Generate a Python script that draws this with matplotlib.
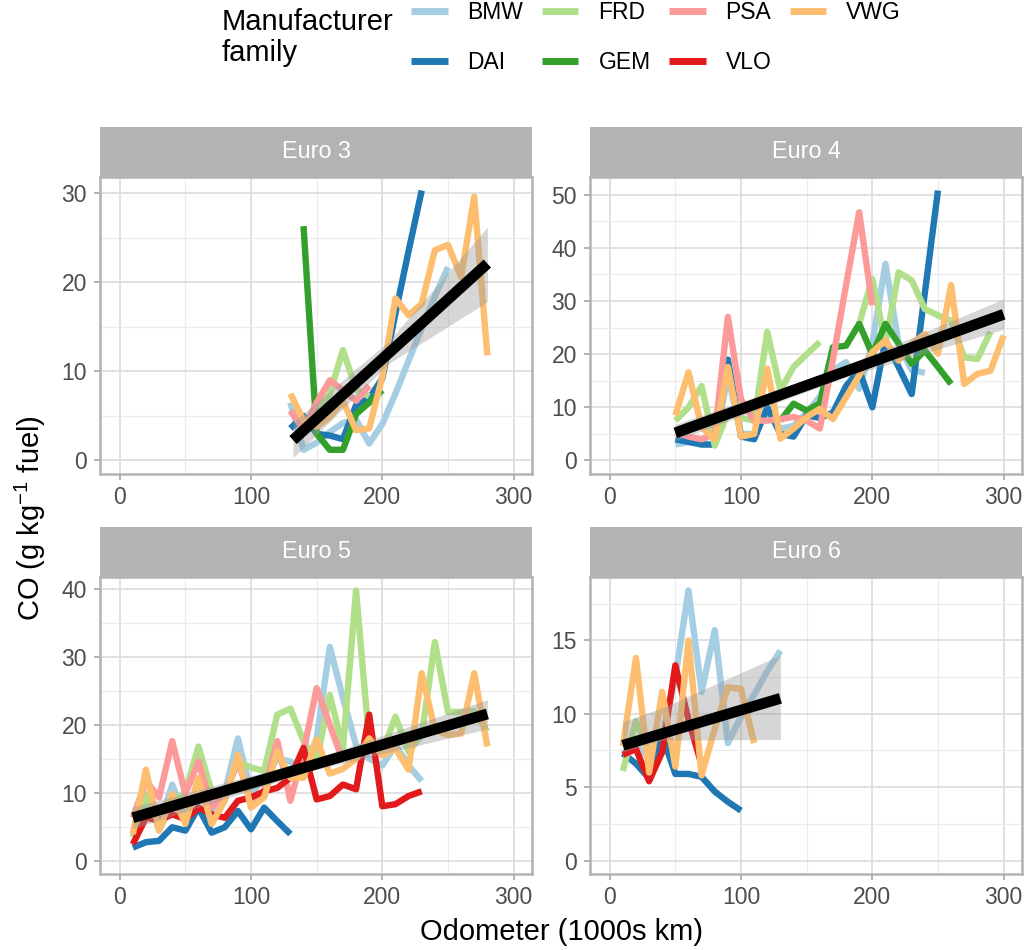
import numpy as np
import matplotlib

# Headless backend
matplotlib.use("Agg")

import matplotlib.pyplot as plt
from matplotlib.lines import Line2D
from matplotlib.ticker import MultipleLocator

plt.rcParams["font.family"] = ["Liberation Sans", "DejaVu Sans"]
plt.rcParams["mathtext.fontset"] = "custom"
plt.rcParams["mathtext.rm"] = "Liberation Sans"
plt.rcParams["mathtext.it"] = "Liberation Sans:italic"

nan = float("nan")

# ==========
# CATEGORIES
# ==========
MAKERS = ["BMW", "DAI", "FRD", "GEM", "PSA", "VLO", "VWG"]
COLOURS = {
    "BMW": "#A6CEE3", "DAI": "#1F78B4", "FRD": "#B2DF8A", "GEM": "#33A02C",
    "PSA": "#FB9A99", "VLO": "#E31A1C", "VWG": "#FDBF6F",
}

# ==================================
# EURO 3 (odometer bins, 1000s km)
# ==================================
E3_ODO = [130, 140, 150, 160, 170, 180, 190, 200, 210, 220, 230, 240, 250, 260, 270, 280]
E3_BMW = [6.5, 1.2, 2.0, 3.2, 4.2, 4.6, 1.9, 4.1, 7.5, 11.2, 14.8, 18.4, 21.7, nan, nan, nan]
E3_DAI = [3.6, 5.0, 3.0, 2.8, 2.4, 6.2, 7.0, 9.2, 16.5, 23.5, 30.3, nan, nan, nan, nan, nan]
E3_FRD = [nan, nan, 5.5, 7.5, 12.4, 8.0, 7.2, nan, nan, nan, nan, nan, nan, nan, nan, nan]
E3_GEM = [nan, 26.3, 3.0, 1.2, 1.2, 5.2, 6.5, 7.9, nan, nan, nan, nan, nan, nan, nan, nan]
E3_PSA = [5.6, 3.5, 6.5, 9.0, 7.9, 6.7, 8.4, nan, nan, nan, nan, nan, nan, nan, nan, nan]
E3_VWG = [7.5, 4.5, 3.8, 4.9, 6.7, 3.4, 3.6, 9.4, 18.2, 16.3, 17.6, 23.6, 24.2, 20.6, 29.6, 11.8]
E3_FIT_X = [132, 280]
E3_FIT_Y = [2.3, 22.1]
E3_RIB_X = [132, 205, 280]
E3_RIB_LO = [0.3, 10.9, 17.8]
E3_RIB_HI = [4.3, 13.4, 26.2]

# ======
# EURO 4
# ======
E4_ODO = [50, 60, 70, 80, 90, 100, 110, 120, 130, 140, 150, 160, 170,
          180, 190, 200, 210, 220, 230, 240, 250, 260, 270, 280, 290, 300]
E4_BMW = [3.0, 3.5, 3.2, 3.0, 16.0, 5.0, 5.0, 9.0, 6.0, 6.5, 9.0, 12.0, 17.0,
          18.5, 13.5, 22.0, 37.0, 22.0, 17.0, 16.5, nan, nan, nan, nan, nan, nan]
E4_DAI = [4.0, 3.5, 3.0, 3.0, 19.0, 4.5, 4.0, 10.0, 5.0, 4.5, 8.5, 8.0, 9.0,
          14.0, 17.0, 10.0, 22.6, 17.6, 12.5, 31.5, 50.8, nan, nan, nan, nan, nan]
E4_FRD = [7.5, 10.0, 14.0, 2.8, 9.0, 8.0, 7.5, 24.2, 13.2, 17.6, 20.0, 22.3, nan,
          nan, 25.7, 34.2, 22.0, 35.4, 33.9, 28.5, 27.3, 26.3, 19.4, 19.1, 24.2, nan]
E4_GEM = [nan, nan, nan, nan, nan, nan, nan, nan, 7.5, 10.7, 9.4, 10.7, 21.3,
          21.6, 25.7, 20.0, 25.7, 22.0, 18.2, 20.7, 17.6, 14.4, nan, nan, nan, nan]
E4_PSA = [5.3, 4.5, 4.0, 5.0, 27.0, 11.5, 7.5, 7.5, 7.8, 8.2, 7.5, 6.0, 19.0,
          33.0, 46.7, 29.2, nan, nan, nan, nan, nan, nan, nan, nan, nan, nan]
E4_VWG = [8.5, 16.6, 6.3, 4.0, 17.6, 4.5, 5.0, 17.3, 4.1, 6.0, 8.2, 9.7, 7.8,
          11.9, 16.0, 20.4, 22.6, 18.8, 22.0, 23.8, 20.1, 33.0, 14.4, 16.3, 16.9, 23.5]
E4_FIT_X = [50, 300]
E4_FIT_Y = [5.2, 27.5]
E4_RIB_X = [50, 175, 300]
E4_RIB_LO = [3.7, 15.3, 24.7]
E4_RIB_HI = [6.8, 17.4, 30.4]

# ======
# EURO 5
# ======
E5_ODO = [10, 20, 30, 40, 50, 60, 70, 80, 90, 100, 110, 120, 130, 140,
          150, 160, 170, 180, 190, 200, 210, 220, 230, 240, 250, 260, 270, 280]
E5_BMW = [4.0, 8.5, 5.0, 11.2, 6.0, 12.0, 7.0, 10.0, 18.0, 10.0, 12.0, 15.0, 14.6, 13.0,
          18.0, 31.5, 24.0, 17.0, 15.0, 14.0, 17.0, 14.0, 11.7, nan, nan, nan, nan, nan]
E5_DAI = [1.9, 2.7, 2.9, 4.9, 4.4, 7.8, 4.1, 4.9, 7.3, 4.6, 7.8, 5.8, 3.9, nan,
          nan, nan, nan, nan, nan, nan, nan, nan, nan, nan, nan, nan, nan, nan]
E5_FRD = [3.4, 9.8, 4.5, 8.3, 10.2, 16.8, 10.2, 9.5, 14.6, 13.7, 13.2, 21.5, 22.4, 17.6,
          14.6, 24.4, 16.5, 39.8, 17.5, 16.0, 21.2, 16.0, 18.5, 32.2, 21.9, 21.9, 22.0, 19.0]
E5_PSA = [6.3, 11.7, 9.3, 17.6, 9.8, 14.6, 7.8, 9.8, 14.6, 8.8, 10.2, 17.6, 8.8, 16.1,
          25.4, 20.0, 14.6, nan, nan, nan, nan, nan, nan, nan, nan, nan, nan, nan]
E5_VLO = [2.4, 6.3, 5.9, 6.8, 6.1, 7.8, 6.8, 6.3, 8.8, 9.3, 10.2, 10.7, 12.2, 16.6,
          9.0, 9.5, 11.2, 10.5, 21.5, 8.0, 8.3, 9.5, 10.2, nan, nan, nan, nan, nan]
E5_VWG = [3.9, 13.4, 4.4, 9.8, 5.4, 12.2, 5.4, 8.8, 15.6, 7.8, 9.3, 16.1, 12.2, 12.2,
          17.8, 12.8, 13.5, 15.0, 18.0, 15.5, 16.5, 13.4, 27.6, 19.3, 18.5, 18.7, 27.6, 16.8]
E5_FIT_X = [10, 280]
E5_FIT_Y = [6.3, 21.6]
E5_RIB_X = [10, 145, 280]
E5_RIB_LO = [4.7, 13.2, 19.4]
E5_RIB_HI = [7.9, 14.8, 23.7]

# ======
# EURO 6
# ======
E6_ODO = [10, 20, 30, 40, 50, 60, 70, 80, 90, 100, 110, 120, 130]
E6_BMW = [7.3, 7.8, 7.0, 8.5, 12.5, 18.4, 11.5, 15.7, 8.0, 9.8, 11.3, 12.9, 14.3]
E6_DAI = [7.3, 6.6, 5.6, 8.5, 5.9, 5.9, 5.7, 4.7, 4.0, 3.4, nan, nan, nan]
E6_FRD = [6.1, 9.5, 7.5, nan, nan, nan, nan, nan, nan, nan, nan, nan, nan]
E6_VLO = [7.2, 7.6, 5.4, 7.4, 13.3, 9.6, 6.5, nan, nan, nan, nan, nan, nan]
E6_VWG = [7.8, 13.8, 6.0, 11.5, 6.4, 15.0, 5.8, 9.0, 11.8, 11.7, 8.0, nan, nan]
E6_FIT_X = [10, 130]
E6_FIT_Y = [7.85, 11.05]
E6_RIB_X = [10, 40, 130]
E6_RIB_LO = [7.4, 8.2, 8.25]
E6_RIB_HI = [9.45, 10.4, 14.0]

# ======
# LAYOUT
# ======
W, H = 1026, 950
PANEL_W = 432
PANEL_H = 297
STRIP_H = 50
LEFTS = [100, 590]
TOPS = [177, 577]   # panel top in pixels from the top of the figure

panels = [
    ("Euro 3", E3_ODO, {"BMW": E3_BMW, "DAI": E3_DAI, "FRD": E3_FRD, "GEM": E3_GEM,
                        "PSA": E3_PSA, "VWG": E3_VWG},
     E3_FIT_X, E3_FIT_Y, E3_RIB_X, E3_RIB_LO, E3_RIB_HI, 10),
    ("Euro 4", E4_ODO, {"BMW": E4_BMW, "DAI": E4_DAI, "FRD": E4_FRD, "GEM": E4_GEM,
                        "PSA": E4_PSA, "VWG": E4_VWG},
     E4_FIT_X, E4_FIT_Y, E4_RIB_X, E4_RIB_LO, E4_RIB_HI, 10),
    ("Euro 5", E5_ODO, {"BMW": E5_BMW, "DAI": E5_DAI, "FRD": E5_FRD, "PSA": E5_PSA,
                        "VLO": E5_VLO, "VWG": E5_VWG},
     E5_FIT_X, E5_FIT_Y, E5_RIB_X, E5_RIB_LO, E5_RIB_HI, 10),
    ("Euro 6", E6_ODO, {"BMW": E6_BMW, "DAI": E6_DAI, "FRD": E6_FRD, "VLO": E6_VLO,
                        "VWG": E6_VWG},
     E6_FIT_X, E6_FIT_Y, E6_RIB_X, E6_RIB_LO, E6_RIB_HI, 5),
]

BORDER = "#B3B3B3"

fig = plt.figure(figsize=(W / 100, H / 100), dpi=100)

for i, (title, odo, series, fit_x, fit_y, rib_x, rib_lo, rib_hi, ystep) in enumerate(panels):
    left = LEFTS[i % 2]
    top = TOPS[i // 2]
    ax = fig.add_axes([left / W, 1 - (top + PANEL_H) / H, PANEL_W / W, PANEL_H / H])

    for maker in MAKERS:
        if maker not in series:
            continue
        ax.plot(odo, series[maker], color=COLOURS[maker], lw=4.6,
                solid_capstyle="butt", solid_joinstyle="round", zorder=2)

    ax.fill_between(rib_x, rib_lo, rib_hi, color="#999999", alpha=0.4, lw=0, zorder=3)
    ax.plot(fit_x, fit_y, color="black", lw=7.8, solid_capstyle="butt", zorder=4)

    # y range: 0 .. data max, expanded 5% like ggplot
    ymax = max(np.nanmax(np.array(v, dtype=float)) for v in series.values())
    ymax = max(ymax, max(rib_hi))
    pad = 0.05 * ymax
    ax.set_ylim(-pad, ymax + pad)
    ax.set_xlim(-15, 314)

    ax.xaxis.set_major_locator(MultipleLocator(100))
    ax.xaxis.set_minor_locator(MultipleLocator(50))
    ax.yaxis.set_major_locator(MultipleLocator(ystep))
    ax.yaxis.set_minor_locator(MultipleLocator(ystep / 2))

    ax.set_axisbelow(True)
    ax.grid(which="major", color="#DEDEDE", lw=1.3)
    ax.grid(which="minor", color="#EBEBEB", lw=0.8)
    for sp in ax.spines.values():
        sp.set_color(BORDER)
        sp.set_linewidth(1.8)
    ax.tick_params(which="major", color=BORDER, length=4.5, width=1.4,
                   labelcolor="#4D4D4D", labelsize=16.5)
    ax.tick_params(axis="y", pad=5)
    ax.tick_params(axis="x", pad=4)
    ax.tick_params(which="minor", length=0)

    # facet strip
    sax = fig.add_axes([left / W, 1 - top / H, PANEL_W / W, STRIP_H / H])
    sax.set_facecolor(BORDER)
    sax.set_xticks([])
    sax.set_yticks([])
    for sp in sax.spines.values():
        sp.set_visible(False)
    sax.text(0.5, 0.5, title, color="white", fontsize=16.8,
             ha="center", va="center", transform=sax.transAxes)

# axis titles
fig.text(561 / W, 1 - 932 / H, "Odometer (1000s km)", fontsize=21,
         ha="center", va="center")
fig.text(30 / W, 1 - 518 / H, "CO (g kg$^{-1}$ fuel)", fontsize=21,
         rotation=90, ha="center", va="center")

# legend
handles = [Line2D([], [], color=COLOURS[m], lw=5, solid_capstyle="butt") for m in MAKERS]
fig.legend(handles, MAKERS, ncol=4, loc="upper left",
           bbox_to_anchor=(411 / W, 1 - 1 / H), frameon=False, fontsize=16.5,
           handlelength=1.6, handletextpad=0.87, columnspacing=0.8,
           labelspacing=1.17, borderpad=0, borderaxespad=0)
fig.text(222 / W, 1 - 8 / H, "Manufacturer\nfamily", fontsize=21,
         ha="left", va="top", linespacing=1.12)

fig.savefig("out.png", dpi=100)
